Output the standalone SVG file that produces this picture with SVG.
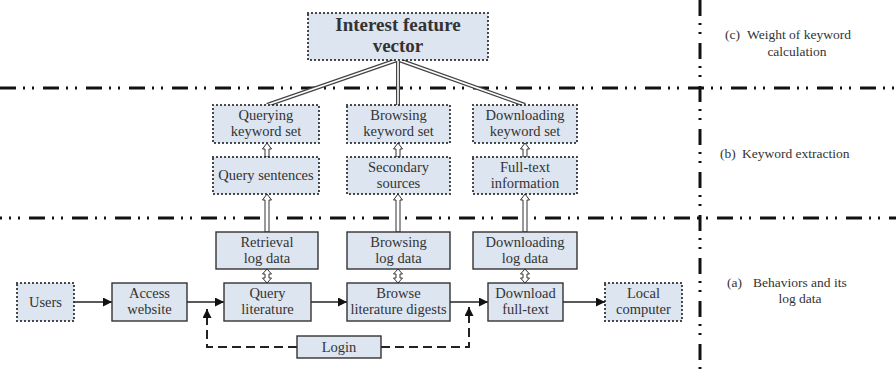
<svg xmlns="http://www.w3.org/2000/svg" width="896" height="369" viewBox="0 0 896 369">
<defs>
<style>
text{font-family:"Liberation Serif","Times New Roman",serif;font-size:14.5px;fill:#333;text-anchor:middle}
.lab{font-size:13.5px;text-anchor:start}
.lab2{font-size:13.5px}
.solid{fill:#dde5f0;stroke:#333;stroke-width:1.4}
.dot{fill:#dde5f0;stroke:#222;stroke-width:2.2;stroke-dasharray:0 4;stroke-linecap:round}
.sep{fill:none;stroke:#111;stroke-width:3;stroke-dasharray:16 7 2 7 2 9}
.flow{fill:none;stroke:#222;stroke-width:1.5}
.dash{fill:none;stroke:#222;stroke-width:2;stroke-dasharray:9 5}
.hol{fill:#fff;stroke:#333;stroke-width:1}
.dbo{fill:none;stroke:#444;stroke-width:4}
.dbi{fill:none;stroke:#fff;stroke-width:1.6}
</style>
<marker id="ah" viewBox="0 0 10 10" refX="10" refY="5" markerWidth="10" markerHeight="9" markerUnits="userSpaceOnUse" orient="auto">
<path d="M0,0 L10,5 L0,10 Z" fill="#111"/>
</marker>
</defs>
<rect width="896" height="369" fill="#fff"/>

<g id="separators">
<line class="sep" x1="0" y1="88" x2="896" y2="88"/>
<line class="sep" x1="-14" y1="218" x2="896" y2="218"/>
<line class="sep" x1="700" y1="0" x2="700" y2="369"/>
</g>

<g id="connectors">
<path class="flow" d="M74,302 H112" marker-end="url(#ah)"/>
<path class="flow" d="M187,302 H224" marker-end="url(#ah)"/>
<path class="flow" d="M311,302 H347" marker-end="url(#ah)"/>
<path class="flow" d="M450,302 H488" marker-end="url(#ah)"/>
<path class="flow" d="M563,302 H605" marker-end="url(#ah)"/>
<path class="dash" d="M297,347 H207 V309" marker-end="url(#ah)"/>
<path class="dash" d="M381,347 H469 V307" marker-end="url(#ah)"/>
<path class="dbo" d="M267,105 L397,60 M398,105 L398,60 M525,105 L399,60"/>
<path class="dbi" d="M267,105 L397,60 M398,105 L398,60 M525,105 L399,60"/>
<polygon class="hol" points="267,194 271.5,200 269,200 269,232 265,232 265,200 262.5,200"/>
<polygon class="hol" points="398,194 402.5,200 400,200 400,232 396,232 396,200 393.5,200"/>
<polygon class="hol" points="525,194 529.5,200 527,200 527,232 523,232 523,200 520.5,200"/>
<polygon class="hol" points="267,143 271.5,149 269,149 269,157 265,157 265,149 262.5,149"/>
<polygon class="hol" points="398,143 402.5,149 400,149 400,157 396,157 396,149 393.5,149"/>
<polygon class="hol" points="525,143 529.5,149 527,149 527,157 523,157 523,149 520.5,149"/>
<polygon class="hol" points="267,269 271.5,274 269,274 269,278 271.5,278 267,283 262.5,278 265,278 265,274 262.5,274"/>
<polygon class="hol" points="398,269 402.5,274 400,274 400,278 402.5,278 398,283 393.5,278 396,278 396,274 393.5,274"/>
<polygon class="hol" points="525,269 529.5,274 527,274 527,278 529.5,278 525,283 520.5,278 523,278 523,274 520.5,274"/>
</g>

<g id="interest">
<rect class="dot" x="308" y="13" width="180" height="47"/>
<text x="398" y="31" style="font-size:19px;font-weight:bold">Interest feature</text>
<text x="398" y="52" style="font-size:19px;font-weight:bold">vector</text>
</g>

<g id="querying-kw">
<rect class="dot" x="213" y="105" width="106" height="38"/>
<text x="266" y="120">Querying</text><text x="266" y="136">keyword set</text>
</g>
<g id="browsing-kw">
<rect class="dot" x="347" y="105" width="103" height="38"/>
<text x="398.5" y="120">Browsing</text><text x="398.5" y="136">keyword set</text>
</g>
<g id="downloading-kw">
<rect class="dot" x="473" y="105" width="104" height="38"/>
<text x="525" y="120">Downloading</text><text x="525" y="136">keyword set</text>
</g>

<g id="query-sentences">
<rect class="dot" x="213" y="157" width="106" height="37"/>
<text x="266" y="180">Query sentences</text>
</g>
<g id="secondary-sources">
<rect class="dot" x="347" y="157" width="103" height="37"/>
<text x="398.5" y="172">Secondary</text><text x="398.5" y="188">sources</text>
</g>
<g id="fulltext-info">
<rect class="dot" x="473" y="157" width="104" height="37"/>
<text x="525" y="172">Full-text</text><text x="525" y="188">information</text>
</g>

<g id="retrieval-log">
<rect class="solid" x="216" y="232" width="102" height="37"/>
<text x="267" y="246.5">Retrieval</text><text x="267" y="262.5">log data</text>
</g>
<g id="browsing-log">
<rect class="solid" x="347" y="232" width="103" height="37"/>
<text x="398.5" y="246.5">Browsing</text><text x="398.5" y="262.5">log data</text>
</g>
<g id="downloading-log">
<rect class="solid" x="473" y="232" width="104" height="37"/>
<text x="525" y="246.5">Downloading</text><text x="525" y="262.5">log data</text>
</g>

<g id="users">
<rect class="dot" x="17" y="283" width="57" height="38"/>
<text x="45.5" y="306.5">Users</text>
</g>
<g id="access">
<rect class="solid" x="112" y="283" width="75" height="38"/>
<text x="149.5" y="298">Access</text><text x="149.5" y="314">website</text>
</g>
<g id="query-lit">
<rect class="solid" x="224" y="283" width="87" height="38"/>
<text x="267.5" y="298">Query</text><text x="267.5" y="314">literature</text>
</g>
<g id="browse-lit">
<rect class="solid" x="347" y="283" width="103" height="38"/>
<text x="398.5" y="298">Browse</text><text x="398.5" y="314">literature digests</text>
</g>
<g id="download-ft">
<rect class="solid" x="488" y="283" width="75" height="38"/>
<text x="525.5" y="298">Download</text><text x="525.5" y="314">full-text</text>
</g>
<g id="local">
<rect class="dot" x="605" y="283" width="77" height="38"/>
<text x="643.5" y="298">Local</text><text x="643.5" y="314">computer</text>
</g>
<g id="login">
<rect class="solid" x="297" y="336" width="84" height="22"/>
<text x="339" y="351.5">Login</text>
</g>

<g id="labels">
<text class="lab" x="725" y="39">(c)</text><text class="lab" x="747" y="39">Weight of keyword</text>
<text class="lab2" x="797" y="56">calculation</text>
<text class="lab" x="720" y="158">(b)</text><text class="lab" x="742" y="158">Keyword extraction</text>
<text class="lab" x="727" y="287">(a)</text><text class="lab" x="753" y="287">Behaviors and its</text>
<text class="lab2" x="800" y="303">log data</text>
</g>
</svg>
